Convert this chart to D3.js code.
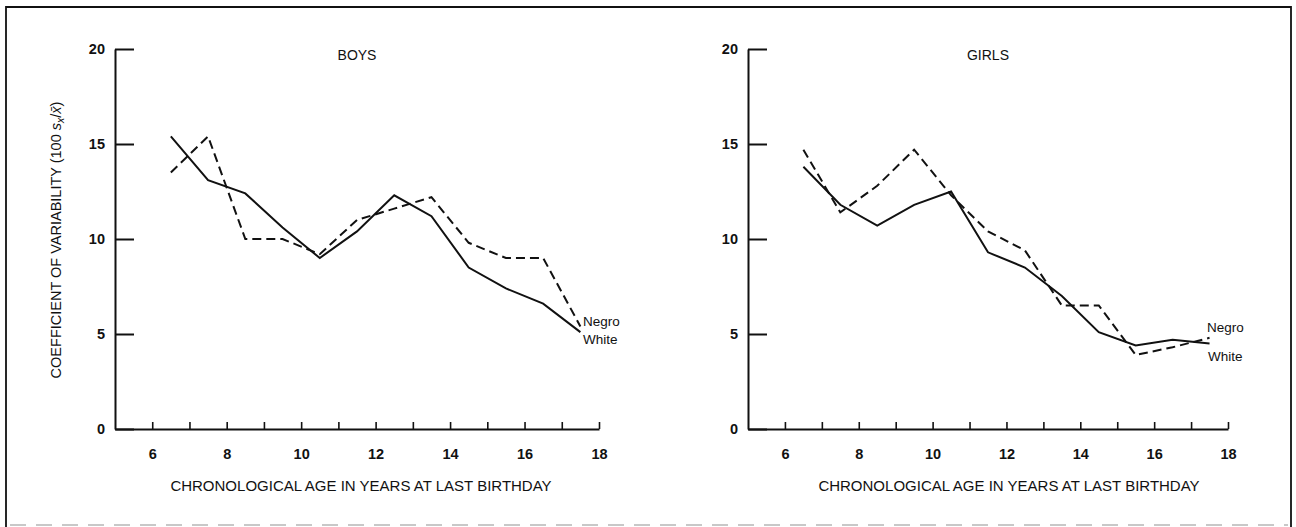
<!DOCTYPE html>
<html>
<head>
<meta charset="utf-8">
<script src="https://cdn.jsdelivr.net/npm/d3@7"></script>
<style>
  html, body { margin: 0; padding: 0; background: #fff; }
  svg { display: block; }
  text { font-family: "Liberation Sans", Arial, Helvetica, sans-serif; fill: #111; }
</style>
</head>
<body>
<svg id="chart" width="1296" height="527"></svg>
<script>
// ---- data ----
const ages = [6.5, 7.5, 8.5, 9.5, 10.5, 11.5, 12.5, 13.5, 14.5, 15.5, 16.5, 17.5];
const boysWhite  = [15.4, 13.1, 12.4, 10.6, 9.0, 10.4, 12.3, 11.2, 8.5, 7.4, 6.6, 5.1];
const boysNegro  = [13.5, 15.4, 10.0, 10.0, 9.2, 11.0, 11.6, 12.2, 9.8, 9.0, 9.0, 5.4];
const girlsWhite = [13.8, 11.8, 10.7, 11.8, 12.5, 9.3, 8.5, 7.0, 5.1, 4.4, 4.7, 4.5];
const girlsNegro = [14.7, 11.4, 12.8, 14.7, 12.3, 10.4, 9.4, 6.5, 6.5, 3.9, 4.3, 4.8];
const yTicks = [0, 5, 10, 15, 20];
const xTicks = [6, 7, 8, 9, 10, 11, 12, 13, 14, 15, 16, 17, 18];
const xTickLabels = [6, 8, 10, 12, 14, 16, 18];
const panelTitles = ["BOYS", "GIRLS"];
const seriesNames = ["Negro", "White"];
const xTitle = "CHRONOLOGICAL AGE IN YEARS AT LAST BIRTHDAY";

const svg = d3.select("#chart");
svg.append("rect").attr("width", 1296).attr("height", 527).attr("fill", "#fff");

// frame
svg.append("path")
  .attr("d", "M6,530 L6,7 L1291,7 L1291,530")
  .attr("fill", "none").attr("stroke", "#111").attr("stroke-width", 1.8);
svg.append("line")
  .attr("x1", 10).attr("x2", 1288).attr("y1", 525).attr("y2", 525)
  .attr("stroke", "#c8c8c8").attr("stroke-width", 2).attr("stroke-dasharray", "16,10");

const panels = [
  { x0: 115, x1: 599, title: panelTitles[0], white: boysWhite, negro: boysNegro,
    titleX: 361, negroLabel: [583, 321], whiteLabel: [583, 339] },
  { x0: 748, x1: 1228, title: panelTitles[1], white: girlsWhite, negro: girlsNegro,
    titleX: 1009, negroLabel: [1207, 327], whiteLabel: [1208, 356] }
];

panels.forEach((p, i) => {
  const x = d3.scaleLinear().domain([5, 18]).range([p.x0, p.x1]);
  const y = d3.scaleLinear().domain([0, 20]).range([429, 49]);
  const g = svg.append("g");

  // y axis
  const ya = g.append("g").attr("transform", `translate(${p.x0},0)`)
    .call(d3.axisLeft(y).tickValues(yTicks).tickSizeInner(-19).tickSizeOuter(0).tickPadding(10));
  ya.selectAll("path, line").attr("stroke", "#111").attr("stroke-width", 2);
  ya.selectAll("text").attr("font-size", 14.5).attr("font-weight", "bold")
    .attr("font-family", "Liberation Sans, Arial, sans-serif").attr("fill", "#111");

  // x axis
  const xa = g.append("g").attr("transform", `translate(0,429)`)
    .call(d3.axisBottom(x).tickValues(xTicks).tickSizeInner(-7).tickSizeOuter(0).tickPadding(20)
      .tickFormat(d => xTickLabels.includes(d) ? d : ""));
  xa.selectAll("path").attr("stroke", "#111").attr("stroke-width", 2);
  xa.selectAll("line").attr("stroke", "#111").attr("stroke-width", 1.6);
  xa.selectAll("text").attr("font-size", 14.5).attr("font-weight", "bold")
    .attr("font-family", "Liberation Sans, Arial, sans-serif").attr("fill", "#111");

  // x title
  g.append("text").attr("x", p.titleX).attr("y", 491)
    .attr("text-anchor", "middle").attr("font-size", 15).text(xTitle);

  // panel title
  g.append("text").attr("x", (p.x0 + p.x1) / 2).attr("y", 60)
    .attr("text-anchor", "middle").attr("font-size", 14).text(p.title);

  const line = d3.line().x((d, k) => x(ages[k])).y(d => y(d));
  g.append("path").datum(p.white).attr("d", line)
    .attr("fill", "none").attr("stroke", "#111").attr("stroke-width", 2);
  g.append("path").datum(p.negro).attr("d", line)
    .attr("fill", "none").attr("stroke", "#111").attr("stroke-width", 2)
    .attr("stroke-dasharray", "9,5");

  g.append("text").attr("x", p.negroLabel[0]).attr("y", p.negroLabel[1]).attr("dy", "0.35em")
    .attr("font-size", 13.5).text(seriesNames[0]);
  g.append("text").attr("x", p.whiteLabel[0]).attr("y", p.whiteLabel[1]).attr("dy", "0.35em")
    .attr("font-size", 13.5).text(seriesNames[1]);
});

// y axis title (left panel only)
const yt = svg.append("text")
  .attr("transform", "translate(61,240) rotate(-90)")
  .attr("text-anchor", "middle").attr("font-size", 14.5);
yt.append("tspan").text("COEFFICIENT OF VARIABILITY (100 ");
yt.append("tspan").attr("font-style", "italic").text("s");
yt.append("tspan").attr("font-style", "italic").attr("font-size", 10.5).attr("dy", 3).text("x");
yt.append("tspan").attr("dy", -3).text("/");
yt.append("tspan").attr("font-style", "italic").text("x\u0304");
yt.append("tspan").text(")");
</script>
</body>
</html>
